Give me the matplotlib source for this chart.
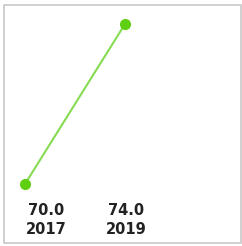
import matplotlib
matplotlib.use("Agg")
import matplotlib.pyplot as plt
from matplotlib.patches import Rectangle
import matplotlib.transforms as mtransforms

years = ["2017", "2019"]
values = [70.0, 74.0]
value_labels = ["70.0", "74.0"]

W, H = 242, 246
fig = plt.figure(figsize=(W / 100, H / 100), dpi=100)
ax = fig.add_axes([0, 0, 1, 1])
ax.set_axis_off()

xs = list(range(len(years)))
ax.plot(xs, values, color="#86dc50", lw=1.5, zorder=2)
ax.plot(xs, values, 'o', color="#5fcf12", ms=8, mec="none", zorder=3)

ax.set_xlim(-0.25, 2.17)
ax.set_ylim(68.45, 74.6)

trans = mtransforms.blended_transform_factory(ax.transData, ax.transAxes)
x_offsets = [15, 1]  # points
for i, (yl, vl) in enumerate(zip(years, value_labels)):
    ax.annotate(vl, xy=(xs[i], 0.146), xycoords=trans, xytext=(x_offsets[i], 0),
                textcoords="offset points", ha="center", va="center",
                fontsize=10.5, fontweight="bold", color="#222222", family="DejaVu Sans")
    ax.annotate(yl, xy=(xs[i], 0.069), xycoords=trans, xytext=(x_offsets[i], 0),
                textcoords="offset points", ha="center", va="center",
                fontsize=10.5, fontweight="bold", color="#222222", family="DejaVu Sans")

fig.patches.append(Rectangle((4 / W, 1 - 243 / H), 237 / W, 238 / H,
                             transform=fig.transFigure, fill=False,
                             edgecolor="#c8c8c8", lw=1.2))

fig.savefig("out.png", dpi=100)
